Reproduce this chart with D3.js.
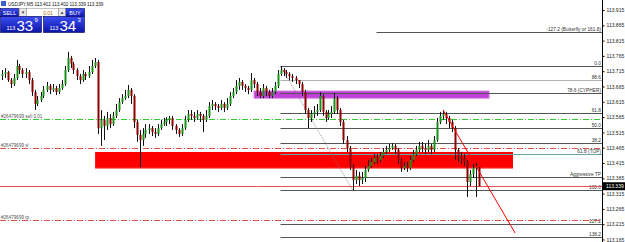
<!DOCTYPE html>
<html><head><meta charset="utf-8">
<script src="https://cdn.jsdelivr.net/npm/d3@7"></script>
<style>
body{margin:0;background:#fff;overflow:hidden}
svg{display:block}
text{font-family:"Liberation Sans","DejaVu Sans",Arial,sans-serif}
</style>
</head><body>
<svg id="c" width="625" height="242"></svg>
<script>
// ---------- data ----------
const symbolTitle = "USDJPY,M5  113.402 113.402 113.339 113.339";
const firstOpen = 113.699;
const closes = [113.706,113.712,113.686,113.673,113.693,113.732,113.719,113.706,113.712,113.686,
113.647,113.608,113.621,113.634,113.654,113.667,113.654,113.660,113.647,113.660,
113.673,113.719,113.758,113.739,113.719,113.699,113.686,113.706,113.699,113.712,
113.732,113.745,113.529,113.556,113.536,113.562,113.542,113.569,113.588,113.614,
113.627,113.634,113.654,113.634,113.549,113.507,113.490,113.510,113.523,113.529,
113.516,113.510,113.529,113.542,113.549,113.556,113.562,113.536,113.523,113.510,
113.529,113.556,113.575,113.569,113.562,113.575,113.569,113.556,113.569,113.601,
113.608,113.601,113.595,113.608,113.595,113.608,113.634,113.647,113.667,113.680,
113.667,113.660,113.654,113.686,113.673,113.647,113.634,113.660,113.647,113.634,
113.647,113.667,113.706,113.719,113.712,113.706,113.699,113.693,113.686,113.673,
113.647,113.588,113.562,113.575,113.582,113.588,113.634,113.582,113.562,113.575,
113.582,113.627,113.588,113.549,113.490,113.464,113.405,113.359,113.373,113.359,
113.366,113.392,113.405,113.418,113.431,113.425,113.438,113.451,113.458,113.464,
113.471,113.458,113.425,113.399,113.405,113.399,113.425,113.444,113.458,113.471,
113.464,113.458,113.471,113.458,113.490,113.549,113.569,113.575,113.562,113.549,
113.529,113.458,113.438,113.431,113.418,113.353,113.379,113.399,113.402,113.339];
const highs = [113.719,113.725,113.716,113.693,113.706,113.752,113.739,113.725,113.725,113.719,
113.693,113.654,113.634,113.647,113.667,113.680,113.673,113.673,113.667,113.673,
113.686,113.732,113.778,113.765,113.745,113.725,113.706,113.719,113.712,113.732,
113.752,113.758,113.752,113.588,113.569,113.582,113.575,113.582,113.608,113.627,
113.640,113.654,113.670,113.660,113.640,113.556,113.523,113.529,113.542,113.542,
113.536,113.529,113.542,113.556,113.562,113.565,113.569,113.569,113.542,113.529,
113.542,113.569,113.588,113.588,113.582,113.588,113.582,113.575,113.588,113.614,
113.621,113.614,113.608,113.621,113.614,113.627,113.647,113.660,113.686,113.693,
113.686,113.673,113.667,113.709,113.693,113.680,113.660,113.673,113.667,113.654,
113.660,113.680,113.719,113.732,113.725,113.719,113.712,113.706,113.699,113.686,
113.680,113.654,113.595,113.588,113.601,113.608,113.647,113.640,113.588,113.588,
113.601,113.644,113.634,113.595,113.556,113.503,113.471,113.412,113.392,113.386,
113.386,113.405,113.425,113.431,113.444,113.444,113.451,113.464,113.471,113.477,
113.480,113.477,113.464,113.431,113.418,113.418,113.438,113.458,113.471,113.484,
113.484,113.477,113.490,113.477,113.503,113.562,113.582,113.588,113.582,113.569,
113.556,113.536,113.464,113.451,113.444,113.425,113.392,113.412,113.415,113.402];
const lows = [113.686,113.693,113.680,113.660,113.667,113.686,113.706,113.693,113.693,113.673,
113.634,113.588,113.601,113.614,113.627,113.647,113.640,113.647,113.637,113.640,
113.654,113.667,113.712,113.725,113.706,113.686,113.673,113.680,113.686,113.693,
113.706,113.725,113.510,113.471,113.490,113.523,113.529,113.536,113.562,113.582,
113.608,113.621,113.627,113.608,113.529,113.484,113.402,113.471,113.497,113.510,
113.503,113.497,113.503,113.523,113.536,113.536,113.542,113.523,113.510,113.500,
113.503,113.523,113.549,113.556,113.549,113.556,113.549,113.516,113.549,113.562,
113.588,113.588,113.582,113.588,113.582,113.588,113.601,113.627,113.640,113.654,
113.654,113.647,113.640,113.647,113.660,113.634,113.627,113.627,113.634,113.627,
113.627,113.640,113.660,113.699,113.699,113.693,113.686,113.680,113.673,113.660,
113.634,113.575,113.529,113.549,113.562,113.569,113.582,113.569,113.549,113.556,
113.562,113.575,113.575,113.536,113.477,113.451,113.392,113.327,113.346,113.340,
113.346,113.353,113.386,113.399,113.412,113.412,113.418,113.431,113.444,113.451,
113.458,113.444,113.412,113.386,113.392,113.386,113.392,113.418,113.438,113.451,
113.451,113.444,113.451,113.444,113.451,113.484,113.542,113.556,113.542,113.529,
113.516,113.425,113.418,113.412,113.405,113.304,113.340,113.366,113.304,113.339];

const priceTicks = [113.915,113.865,113.815,113.765,113.715,113.665,113.615,113.565,113.515,
113.465,113.415,113.365,113.315,113.265,113.215,113.165];
const bidPrice = 113.339;

// Fibonacci drawn from swing high to swing low (bar index, price)
const fibHigh = {bar: 93, price: 113.732};
const fibLow = {bar: 117, price: 113.327};
const fibRatios = [1.272, 1.0, 0.886, 0.786, 0.618, 0.5, 0.382, 0.0, -0.272, -0.382];
const fibLabels = ["-127.2 (Butterfly or 161.8)", "0.0", "88.6", "78.6 (CYPHER)", "61.8", "50.0", "38.2", "100.0", "127.2", "138.2"];
const fibColors = ["#555","#555","#b0b0b0","#555","#555","#555","#555","#555","#555","#555"];
const fibStartBars = [125, 93, 93, 93, 93, 93, 93, 93, 93, 93];

const extraLevelPrices = [113.444, 113.369];
const extraLevelLabels = ["61.8 (TOP)", "Aggressive TP"];
const extraLevelColors = ["#6aa6a6", "#555"];

const orderPrices = [113.559, 113.464, 113.229];
const orderLabels = ["#26479699 sell 0.01", "#26479699 sl", "#26479699 tp"];
const orderColors = ["#33cc33", "#e8504a", "#e8504a"];

// zones: [startBar, endBar, topPrice, bottomPrice]
const redZone = [31.2, 170.5, 113.451, 113.399];
const purpleZone = [84.2, 162.5, 113.650, 113.627];
// projection line: [bar, price] -> [bar, price]
const projLine = [[147.2, 113.588], [171.2, 113.186]];

// ---------- scales ----------
const W = 625, H = 242, plotRight = 602;
const svg = d3.select("#c");
const x = d3.scaleLinear().domain([0, closes.length - 1]).range([1.5, 478.5]);
const y = d3.scaleLinear().domain([113.165, 113.915]).range([239.5, 10]);
const opens = [firstOpen].concat(closes.slice(0, -1));

// ---------- zones ----------
svg.append("rect").attr("x", x(redZone[0])).attr("width", x(redZone[1]) - x(redZone[0]))
  .attr("y", y(redZone[2])).attr("height", y(redZone[3]) - y(redZone[2])).attr("fill", "#ff0000");
svg.append("line").attr("x1", x(redZone[0])).attr("x2", x(redZone[1]))
  .attr("y1", Math.round(y(redZone[3])) + 0.5).attr("y2", Math.round(y(redZone[3])) + 0.5)
  .attr("stroke", "#ff8080").attr("stroke-width", 1);
svg.append("rect").attr("x", x(purpleZone[0])).attr("width", x(purpleZone[1]) - x(purpleZone[0]))
  .attr("y", y(purpleZone[2])).attr("height", y(purpleZone[3]) - y(purpleZone[2]))
  .attr("fill", "#c040d8").attr("stroke", "#d070e0").attr("stroke-width", 1);

// ---------- order lines ----------
orderPrices.forEach((p, i) => {
  const yy = Math.round(y(p)) + 0.5;
  svg.append("line").attr("x1", 0).attr("x2", plotRight).attr("y1", yy).attr("y2", yy)
    .attr("stroke", orderColors[i]).attr("stroke-width", 1).attr("stroke-dasharray", "6,2,1,2");
  svg.append("text").attr("x", 1).attr("y", yy - 1.5).attr("font-size", 4.6).attr("fill", "#555").text(orderLabels[i]);
});

// ---------- fib ----------
const fibPrice = r => fibLow.price + r * (fibHigh.price - fibLow.price);
fibRatios.forEach((r, i) => {
  const yy = Math.round(y(fibPrice(r))) + 0.5;
  svg.append("line").attr("x1", x(fibStartBars[i])).attr("x2", plotRight).attr("y1", yy).attr("y2", yy)
    .attr("stroke", fibColors[i]).attr("stroke-width", 1);
  svg.append("text").attr("x", plotRight - 1).attr("y", yy - 1.5).attr("text-anchor", "end")
    .attr("font-size", 4.8).attr("fill", "#333").text(fibLabels[i]);
});
extraLevelPrices.forEach((p, i) => {
  const yy = Math.round(y(p)) + 0.5;
  svg.append("line").attr("x1", x(fibHigh.bar)).attr("x2", plotRight).attr("y1", yy).attr("y2", yy)
    .attr("stroke", extraLevelColors[i]).attr("stroke-width", 1);
  svg.append("text").attr("x", plotRight - 1).attr("y", yy - 1.5).attr("text-anchor", "end")
    .attr("font-size", 4.8).attr("fill", "#333").text(extraLevelLabels[i]);
});
svg.append("line").attr("x1", x(fibHigh.bar)).attr("y1", y(fibHigh.price))
  .attr("x2", x(fibLow.bar)).attr("y2", y(fibLow.price))
  .attr("stroke", "#777").attr("stroke-width", 0.8).attr("stroke-dasharray", "1,1");

// bid line
{
  const yy = Math.round(y(bidPrice)) + 0.5;
  svg.append("line").attr("x1", 0).attr("x2", plotRight).attr("y1", yy).attr("y2", yy)
    .attr("stroke", "#f05050").attr("stroke-width", 1);
}

// ---------- candles ----------
const g = svg.append("g");
closes.forEach((c, i) => {
  const o = opens[i], cx = Math.round(x(i)) + 0.5;
  g.append("line").attr("x1", cx).attr("x2", cx).attr("y1", y(highs[i])).attr("y2", y(lows[i]))
    .attr("stroke", "#111").attr("stroke-width", 1);
  const top = y(Math.max(o, c)), bot = y(Math.min(o, c));
  g.append("rect").attr("x", cx - 1).attr("width", 2).attr("y", top).attr("height", Math.max(1, bot - top))
    .attr("fill", c >= o ? "#1a8f1a" : "#8b0000");
});

// projection line
svg.append("line").attr("x1", x(projLine[0][0])).attr("y1", y(projLine[0][1]))
  .attr("x2", x(projLine[1][0])).attr("y2", y(projLine[1][1]))
  .attr("stroke", "#ff0000").attr("stroke-width", 1);

// ---------- axis ----------
const axis = svg.append("g").attr("transform", `translate(${plotRight + 0.5},0)`)
  .call(d3.axisRight(y).tickValues(priceTicks).tickSize(2).tickPadding(2).tickFormat(d3.format(".3f")));
axis.select(".domain").attr("d", `M0,0V${H}`).attr("stroke", "#000");
axis.selectAll("text").attr("font-size", 5).attr("fill", "#222")
  .attr("font-family", "'Liberation Sans',Arial,sans-serif");
axis.selectAll(".tick line").attr("stroke", "#000");
{
  const yy = y(bidPrice);
  svg.append("rect").attr("x", plotRight + 1).attr("y", yy - 4).attr("width", 22).attr("height", 8).attr("fill", "#000");
  svg.append("text").attr("x", plotRight + 4).attr("y", yy + 2).attr("font-size", 5).attr("fill", "#fff").text(bidPrice.toFixed(3));
}

// ---------- header / trade panel ----------
svg.append("rect").attr("x", 1).attr("y", 1).attr("width", 5).attr("height", 5).attr("fill", "#3a5fcd");
svg.append("text").attr("x", 8).attr("y", 5.5).attr("font-size", 4.6).attr("fill", "#111").text(symbolTitle);
const defs = svg.append("defs");
const gr = defs.append("linearGradient").attr("id", "bl").attr("x1", 0).attr("y1", 0).attr("x2", 0).attr("y2", 1);
gr.append("stop").attr("offset", 0).attr("stop-color", "#3b4ef0");
gr.append("stop").attr("offset", 1).attr("stop-color", "#0c14a8");
const btn = (bx, by, bw, bh, label) => {
  svg.append("rect").attr("x", bx).attr("y", by).attr("width", bw).attr("height", bh).attr("fill", "url(#bl)").attr("stroke", "#00005a").attr("stroke-width", 0.6);
  svg.append("text").attr("x", bx + bw / 2).attr("y", by + bh / 2 + 2).attr("text-anchor", "middle").attr("font-size", 5.5).attr("fill", "#fff").text(label);
};
btn(0.5, 8.5, 18, 8, "SELL");
btn(65.5, 8.5, 19, 8, "BUY");
svg.append("rect").attr("x", 19.5).attr("y", 8.5).attr("width", 7).attr("height", 8).attr("fill", "#e8e8e8").attr("stroke", "#888").attr("stroke-width", 0.5);
svg.append("text").attr("x", 23).attr("y", 14).attr("text-anchor", "middle").attr("font-size", 5).attr("fill", "#333").text("▾");
svg.append("rect").attr("x", 26.5).attr("y", 8.5).attr("width", 32).attr("height", 8).attr("fill", "#fff").attr("stroke", "#888").attr("stroke-width", 0.5);
svg.append("text").attr("x", 48).attr("y", 14.5).attr("text-anchor", "middle").attr("font-size", 5).attr("fill", "#b07000").text("0.01");
svg.append("rect").attr("x", 58.5).attr("y", 8.5).attr("width", 7).attr("height", 8).attr("fill", "#e8e8e8").attr("stroke", "#888").attr("stroke-width", 0.5);
svg.append("text").attr("x", 62).attr("y", 14).attr("text-anchor", "middle").attr("font-size", 5).attr("fill", "#333").text("▴");
const pricePanel = (px, small, big, sup) => {
  svg.append("rect").attr("x", px).attr("y", 16.5).attr("width", 41).attr("height", 16).attr("fill", "url(#bl)").attr("stroke", "#00005a").attr("stroke-width", 0.6);
  svg.append("text").attr("x", px + 6).attr("y", 30).attr("font-size", 5.5).attr("fill", "#fff").text(small);
  svg.append("text").attr("x", px + 16).attr("y", 31).attr("font-size", 15).attr("fill", "#fff").text(big);
  svg.append("text").attr("x", px + 34).attr("y", 22).attr("font-size", 6).attr("fill", "#fff").text(sup);
};
pricePanel(0.5, "113", "33", "9");
pricePanel(43.5, "113", "34", "3");
</script>
</body></html>
